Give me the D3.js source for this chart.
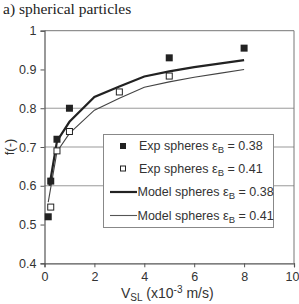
<!DOCTYPE html>
<html><head><meta charset="utf-8">
<script src="https://cdn.jsdelivr.net/npm/d3@7"></script>
<style>body{margin:0;background:#fff}svg{display:block}</style>
</head><body>
<script>
const expX038 = [0.15, 0.25, 0.5, 1, 5, 8];
const expY038 = [0.52, 0.612, 0.72, 0.80, 0.93, 0.955];
const expX041 = [0.25, 0.5, 1, 3, 5];
const expY041 = [0.545, 0.69, 0.74, 0.842, 0.883];
const modX038 = [0.2, 0.5, 1, 2, 3, 4, 5, 6, 7, 8];
const modY038 = [0.60, 0.715, 0.765, 0.829, 0.856, 0.882, 0.895, 0.906, 0.915, 0.924];
const modX041 = [0.15, 0.5, 1, 2, 3, 4, 5, 6, 7, 8];
const modY041 = [0.558, 0.688, 0.735, 0.795, 0.826, 0.854, 0.868, 0.880, 0.890, 0.900];
const xTicks = [0, 2, 4, 6, 8, 10];
const yTicks = [0.4, 0.5, 0.6, 0.7, 0.8, 0.9, 1];
const gridY = [0.6, 0.7, 0.8];
const legendLabels = ["Exp spheres", "Exp spheres", "Model spheres", "Model spheres"];
const legendEps = ["0.38", "0.41", "0.38", "0.41"];

const W = 299, H = 304;
const svg = d3.select("body").append("svg").attr("width", W).attr("height", H);
const x = d3.scaleLinear().domain([0, 10]).range([44.5, 294]);
const y = d3.scaleLinear().domain([0.4, 1]).range([263.3, 30.7]);
const txt = "#333";

svg.append("text").attr("x", 3).attr("y", 14).attr("font-family", "Liberation Serif")
  .attr("font-size", 15.5).attr("fill", "#222").text("a) spherical particles");

// grid
svg.append("g").selectAll("line").data(gridY).join("line")
  .attr("x1", x(0)).attr("x2", x(10)).attr("y1", d => y(d)).attr("y2", d => y(d))
  .attr("stroke", "#999").attr("stroke-width", 1);

// frame top/right
svg.append("path").attr("d", `M${x(0)},${y(1)}H${x(10)}V${y(0.4)}`)
  .attr("fill", "none").attr("stroke", "#777").attr("stroke-width", 1);

const yAxis = d3.axisLeft(y).tickValues(yTicks).tickSize(4).tickPadding(4)
  .tickFormat(d => d === 1 ? "1" : d3.format(".1f")(d));
const gy = svg.append("g").attr("transform", `translate(${x(0)},0)`).call(yAxis);
const xAxis = d3.axisBottom(x).tickValues(xTicks).tickSize(4).tickPadding(5);
const gx = svg.append("g").attr("transform", `translate(0,${y(0.4)})`).call(xAxis);
[gy, gx].forEach(g => {
  g.select(".domain").attr("stroke", "#555").attr("stroke-width", 1.2);
  g.selectAll(".tick line").attr("stroke", "#555");
  g.selectAll("text").attr("font-family", "Liberation Sans").attr("font-size", 12.5).attr("fill", txt);
});
gx.selectAll(".tick text").filter(d => d === 10).attr("text-anchor", "end").attr("dx", 5);

// axis labels
svg.append("text").attr("transform", `translate(14,${(y(0.4)+y(1))/2}) rotate(-90)`)
  .attr("text-anchor", "middle").attr("font-family", "Liberation Sans").attr("font-size", 13)
  .attr("fill", txt).text("f(-)");
const xl = svg.append("text").attr("x", x(5) - 2).attr("y", 298).attr("text-anchor", "middle")
  .attr("font-family", "Liberation Sans").attr("font-size", 14).attr("fill", txt);
xl.append("tspan").text("V");
xl.append("tspan").attr("font-size", 10).attr("dy", 3).text("SL");
xl.append("tspan").attr("dy", -3).text(" (x10");
xl.append("tspan").attr("font-size", 10).attr("dy", -5).text("-3");
xl.append("tspan").attr("dy", 5).text(" m/s)");

// model lines
const line = d3.line().x(d => x(d[0])).y(d => y(d[1]));
svg.append("path").datum(modX041.map((v, i) => [v, modY041[i]])).attr("d", line)
  .attr("fill", "none").attr("stroke", "#444").attr("stroke-width", 1.1);
svg.append("path").datum(modX038.map((v, i) => [v, modY038[i]])).attr("d", line)
  .attr("fill", "none").attr("stroke", "#222").attr("stroke-width", 2.2);

// exp points
svg.append("g").selectAll("rect").data(expX038.map((v, i) => [v, expY038[i]])).join("rect")
  .attr("x", d => x(d[0]) - 3.5).attr("y", d => y(d[1]) - 3.5).attr("width", 7).attr("height", 7)
  .attr("fill", "#222");
svg.append("g").selectAll("rect").data(expX041.map((v, i) => [v, expY041[i]])).join("rect")
  .attr("x", d => x(d[0]) - 3).attr("y", d => y(d[1]) - 3).attr("width", 6).attr("height", 6)
  .attr("fill", "#fff").attr("stroke", "#222").attr("stroke-width", 1);

// legend
const lg = svg.append("g");
lg.append("rect").attr("x", 103.5).attr("y", 134.5).attr("width", 170).attr("height", 93)
  .attr("fill", "#fff").attr("stroke", "#888").attr("stroke-width", 1);
const rowsY = [146, 168.5, 192, 215.5];
legendLabels.forEach((lab, i) => {
  const cy = rowsY[i];
  if (i === 0) lg.append("rect").attr("x", 120).attr("y", cy - 3).attr("width", 6).attr("height", 6).attr("fill", "#222");
  if (i === 1) lg.append("rect").attr("x", 120.5).attr("y", cy - 2.5).attr("width", 5).attr("height", 5).attr("fill", "#fff").attr("stroke", "#222");
  if (i === 2) lg.append("line").attr("x1", 110).attr("x2", 137).attr("y1", cy).attr("y2", cy).attr("stroke", "#222").attr("stroke-width", 2.2);
  if (i === 3) lg.append("line").attr("x1", 110).attr("x2", 137).attr("y1", cy).attr("y2", cy).attr("stroke", "#555").attr("stroke-width", 1.1);
  const t = lg.append("text").attr("x", i < 2 ? 139 : 137.5).attr("y", cy + 4)
    .attr("font-family", "Liberation Sans").attr("font-size", 12.5).attr("fill", txt);
  t.append("tspan").text(lab + (i < 2 ? "  " : " "));
  t.append("tspan").attr("font-size", 13).text("ε");
  t.append("tspan").attr("font-size", 9.5).attr("dy", 3).text("B");
  t.append("tspan").attr("dy", -3).text(" = " + legendEps[i]);
});
</script>
</body></html>
